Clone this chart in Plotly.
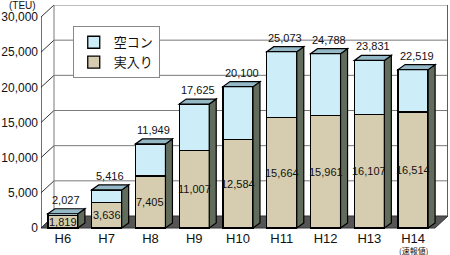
import plotly.graph_objects as go

categories = ["H6", "H7", "H8", "H9", "H10", "H11", "H12", "H13", "H14"]
note_text = "(速報値)"
loaded = [1819, 3636, 7405, 11007, 12584, 15664, 15961, 16107, 16514]
totals = [2027, 5416, 11949, 17625, 20100, 25073, 24788, 23831, 22519]
empty = [t - l for t, l in zip(totals, loaded)]
y_ticks = [0, 5000, 10000, 15000, 20000, 25000, 30000]

W, H = 450, 255
ML, MR, MT, MB = 41, 2, 5, 26
PX_X = 43.78                      # px per category unit
PX_Y = 211 / 30000                # px per TEU
DXW, DYW = 13 / PX_X, 12 / PX_Y   # back wall offset
DX, DY = 7 / PX_X, 5 / PX_Y       # bar depth
BW = 30 / PX_X
YMAX = (H - MT - MB - 1) / PX_Y
YMIN = -1 / PX_Y
xs = list(range(len(categories)))

C_BLUE = "#cdeef9"
C_BEIGE = "#d6cdb0"
C_TOP = "#94b8c6"
C_SIDE = "#626c5c"
C_FLOOR = "#555555"
NUM_FONT = "Liberation Sans"
JP_FONT = "Noto Sans CJK JP"

fig = go.Figure()
fig.add_bar(x=xs, y=loaded, name="実入り", width=BW,
            marker=dict(color=C_BEIGE, line=dict(color="black", width=1.3)))
fig.add_bar(x=xs, y=empty, name="空コン", width=BW,
            marker=dict(color=C_BLUE, line=dict(color="black", width=1.3)))

shapes = []
x0w, x1w = -0.5, 8.5
# floor
shapes.append(dict(type="path", layer="below", xref="x", yref="y",
                   path=f"M{x0w},0 L{x1w},0 L{x1w+DXW},{DYW} L{x0w+DXW},{DYW} Z",
                   fillcolor=C_FLOOR, line=dict(color="#333", width=1)))
# back wall grid + left wall diagonals
for v in y_ticks:
    if v > 0:
        shapes.append(dict(type="line", layer="below", xref="x", yref="y",
                           x0=x0w + DXW, x1=x1w + DXW, y0=v + DYW, y1=v + DYW,
                           line=dict(color="#7a7a7a", width=1)))
    shapes.append(dict(type="line", layer="below", xref="x", yref="y",
                       x0=x0w, x1=x0w + DXW, y0=v, y1=v + DYW,
                       line=dict(color="#333", width=1)))
# back wall verticals
shapes.append(dict(type="line", layer="below", xref="x", yref="y",
                   x0=x0w + DXW, x1=x0w + DXW, y0=DYW, y1=30000 + DYW,
                   line=dict(color="#7a7a7a", width=1)))
shapes.append(dict(type="line", layer="below", xref="x", yref="y",
                   x0=x1w + DXW - 0.01, x1=x1w + DXW - 0.01, y0=DYW, y1=30000 + DYW,
                   line=dict(color="#555", width=1)))
# front left axis line
shapes.append(dict(type="line", layer="below", xref="x", yref="y",
                   x0=x0w, x1=x0w, y0=0, y1=30000, line=dict(color="#222", width=1.3)))

# 3D faces of bars
for x, t in zip(xs, totals):
    a, b = x - BW / 2, x + BW / 2
    shapes.append(dict(type="path", layer="above", xref="x", yref="y",
                       path=f"M{b},0 L{b+DX},{DY} L{b+DX},{t+DY} L{b},{t} Z",
                       fillcolor=C_SIDE, line=dict(color="black", width=1.2)))
    shapes.append(dict(type="path", layer="above", xref="x", yref="y",
                       path=f"M{a},{t} L{b},{t} L{b+DX},{t+DY} L{a+DX},{t+DY} Z",
                       fillcolor=C_TOP, line=dict(color="black", width=1.2)))

annotations = []
for x, t, l in zip(xs, totals, loaded):
    annotations.append(dict(x=x + DX / 2, y=t, xref="x", yref="y", text=f"{t:,}",
                            showarrow=False, yshift=14, yanchor="middle",
                            font=dict(family=NUM_FONT, size=11, color="#111")))
    annotations.append(dict(x=x, y=l / 2, xref="x", yref="y", text=f"{l:,}",
                            showarrow=False, yanchor="middle",
                            font=dict(family=NUM_FONT, size=11, color="#111")))
annotations.append(dict(x=0, y=1, xref="paper", yref="paper", text="(TEU)",
                        showarrow=False, xanchor="right", yanchor="top",
                        xshift=-4, yshift=MT + 1, borderpad=0,
                        font=dict(family=NUM_FONT, size=10, color="#111")))
annotations.append(dict(x=xs[-1], y=0, xref="x", yref="y", text=note_text,
                        showarrow=False, yanchor="middle", yshift=-22,
                        font=dict(family=JP_FONT, size=8, color="#111")))

fig.update_layout(
    width=W, height=H, margin=dict(l=ML, r=MR, t=MT, b=MB),
    barmode="stack", bargap=0.3,
    plot_bgcolor="white", paper_bgcolor="white",
    shapes=shapes, annotations=annotations,
    showlegend=True,
    legend=dict(x=0.078, y=0.905, xanchor="left", yanchor="top",
                bgcolor="white", bordercolor="#888", borderwidth=1,
                font=dict(family=JP_FONT, size=13, color="#111"),
                tracegroupgap=0, itemwidth=30),
    xaxis=dict(range=[x0w, x1w + DXW], tickvals=xs, ticktext=categories,
               showgrid=False, zeroline=False, showline=False, ticks="",
               automargin=False,
               tickfont=dict(family=NUM_FONT, size=13, color="#111")),
    yaxis=dict(range=[YMIN, YMAX], tickvals=y_ticks, tickformat=",",
               showgrid=False, zeroline=False, showline=False, ticks="",
               ticklabelstandoff=2, automargin=False,
               tickfont=dict(family=NUM_FONT, size=12, color="#111")),
)

fig.write_html("out.html")
